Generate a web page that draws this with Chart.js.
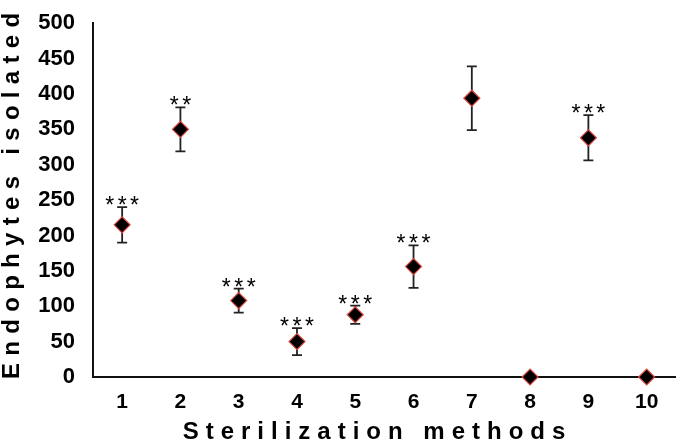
<!DOCTYPE html>
<html>
<head>
<meta charset="utf-8">
<script src="https://cdn.jsdelivr.net/npm/chart.js@4"></script>
<style>
  html, body { margin: 0; padding: 0; background: #fff; }
</style>
</head>
<body>
<canvas id="myChart" width="685" height="445"></canvas>
<script>

  // values
  var methods = ['1', '2', '3', '4', '5', '6', '7', '8', '9', '10'];
  var isolated = [215, 350, 108, 50, 88, 156, 394, 0, 338, 0];
  var errors = [25, 31, 17, 19, 13, 30, 45, 0, 32, 0];
  var stars = ['***', '**', '***', '***', '***', '***', '', '', '***', ''];
  var yTicks = [0, 50, 100, 150, 200, 250, 300, 350, 400, 450, 500];

  var font = '"Liberation Sans", Arial, sans-serif';

  // error bars behind the diamonds, asterisks and axis titles on top
  var extras = {
    id: 'extras',
    beforeDatasetsDraw: function(chart){
      var ctx = chart.ctx;
      var x = chart.scales.x, y = chart.scales.y;
      ctx.save();
      ctx.strokeStyle = '#222';
      ctx.lineWidth = 1.8;
      isolated.forEach(function(val, i){
        if (!errors[i]) return;
        var px = x.getPixelForValue(i);
        var top = y.getPixelForValue(val + errors[i]);
        var bot = y.getPixelForValue(val - errors[i]);
        ctx.beginPath();
        ctx.moveTo(px, top); ctx.lineTo(px, bot);
        ctx.moveTo(px - 5, top); ctx.lineTo(px + 5, top);
        ctx.moveTo(px - 5, bot); ctx.lineTo(px + 5, bot);
        ctx.stroke();
      });
      ctx.restore();
    },
    afterDraw: function(chart){
      var ctx = chart.ctx;
      var x = chart.scales.x, y = chart.scales.y;
      ctx.save();
      ctx.fillStyle = '#000';
      ctx.font = '23px ' + font;
      ctx.textAlign = 'left';
      ctx.textBaseline = 'alphabetic';
      ctx.letterSpacing = '3.5px';
      stars.forEach(function(s, i){
        if (!s) return;
        var px = x.getPixelForValue(i);
        var top = y.getPixelForValue(isolated[i] + errors[i]);
        var w = ctx.measureText(s).width - 3.5;
        ctx.fillText(s, px - w / 2, top + 6);
      });

      // x title
      ctx.font = 'bold 24px ' + font;
      ctx.letterSpacing = '7px';
      var t = 'Sterilization methods';
      var tw = ctx.measureText(t).width - 7;
      ctx.textBaseline = 'middle';
      ctx.fillText(t, 374 - tw / 2, 432);

      // y title
      ctx.font = 'bold 24px ' + font;
      ctx.letterSpacing = '7.3px';
      t = 'Endophytes isolated';
      tw = ctx.measureText(t).width - 7.3;
      ctx.translate(12, 196);
      ctx.rotate(-Math.PI / 2);
      ctx.fillText(t, -tw / 2, 0);
      ctx.restore();
    }
  };

  var ctxDir = document.getElementById('myChart');
  var dotChart = new Chart(ctxDir, {
    type: 'line',
    plugins: [extras],
    data: {
      labels: methods,
      datasets: [{
        label: 'Endophytes isolated',
        data: isolated,
        showLine: false,
        clip: false,
        pointStyle: 'rectRot',
        pointRadius: 8,
        pointBackgroundColor: '#000',
        pointBorderColor: '#d9473f',
        pointBorderWidth: 1.2
      }]
    },
    options: {
      responsive: false,
      animation: false,
      devicePixelRatio: 1,
      layout: { padding: { top: 11, right: 1, left: 0, bottom: 0 } },
      plugins: { legend: { display: false }, tooltip: { enabled: false } },
      scales: {
        x: {
          type: 'category',
          offset: true,
          grid: { display: false },
          border: { display: true, color: '#111', width: 2 },
          ticks: { color: '#000', font: { family: font, size: 21, weight: 'bold' }, padding: 5 },
          afterFit: function(scale){ scale.height = 68; }
        },
        y: {
          min: 0,
          max: 500,
          afterBuildTicks: function(scale){
            scale.ticks = yTicks.map(function(v){ return { value: v }; });
          },
          grid: { display: false },
          border: { display: true, color: '#111', width: 2 },
          ticks: { color: '#000', font: { family: font, size: 22, weight: 'bold' }, padding: 10 },
          afterFit: function(scale){ scale.width = 93; }
        }
      }
    }
  });

</script>
</body>
</html>
